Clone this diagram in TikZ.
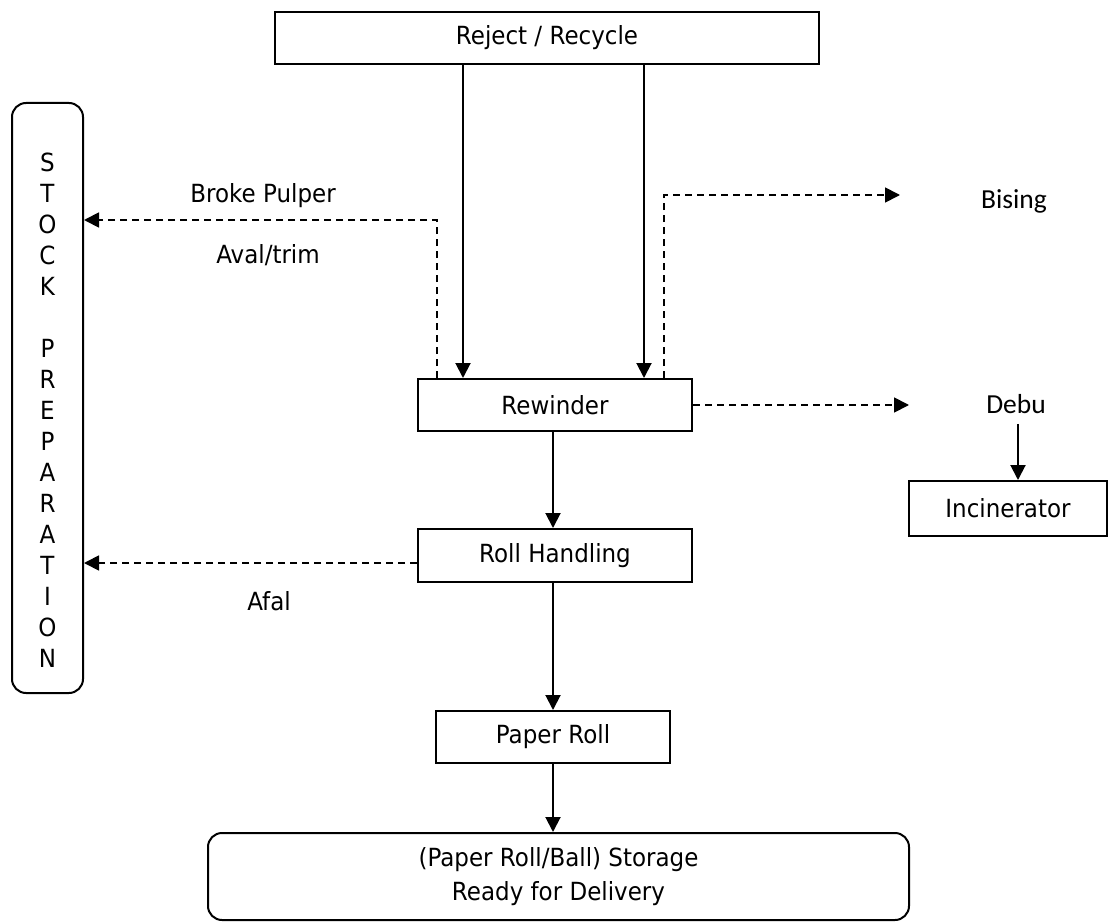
\documentclass[tikz,border=0pt]{standalone}
\usepackage{fontspec}
\setmainfont{DejaVu Sans}[FakeStretch=0.92]
\newfontfamily\calfont{Carlito}
\usetikzlibrary{arrows.meta}
\begin{document}
\begin{tikzpicture}[x=1pt,y=-1pt,
  every node/.style={font=\fontsize{25}{31}\selectfont},
  procbox/.style={draw,line width=2pt,inner sep=0pt,align=center},
  roundbox/.style={procbox,rounded corners=14pt},
  plain/.style={inner sep=0pt,align=center},
  flow/.style={line width=2pt,-{Triangle[length=15pt,width=15pt]}},
  side/.style={line width=1.8pt,dash pattern=on 7pt off 5pt,-{Triangle[length=15pt,width=15pt]}}]
\useasboundingbox (0,0) rectangle (1109,923);

% process boxes
\node[procbox,minimum width=544pt,minimum height=52pt] (reject) at (547,38) {Reject / Recycle};
\node[procbox,minimum width=274pt,minimum height=52pt] (rewinder) at (555,405) {Rewinder};
\node[procbox,minimum width=274pt,minimum height=53pt] (handling) at (555,555.5) {Roll Handling};
\node[procbox,minimum width=234pt,minimum height=52pt] (paper) at (553,737) {Paper Roll};
\node[procbox,minimum width=198pt,minimum height=55pt] (incin) at (1008,508.5) {Incinerator};
\node[roundbox,minimum width=701pt,minimum height=87pt,
  font=\fontsize{25}{34}\selectfont] (storage) at (558.5,876.5)
  {(Paper Roll/Ball) Storage\\Ready for Delivery};

% stock preparation column
\node[roundbox,minimum width=71pt,minimum height=590pt] (stock) at (47.5,398) {};
\node[plain] (stocktxt) at (47.5,410)
  {S\\T\\O\\C\\K\\\mbox{}\\P\\R\\E\\P\\A\\R\\A\\T\\I\\O\\N};

% side outputs
\node[plain,font=\calfont\fontsize{27.5}{31}\selectfont] (bising) at (1014,201) {Bising};
\node[plain,font=\calfont\fontsize{27.5}{31}\selectfont] (debu) at (1016,404) {Debu};

% flow labels
\node[plain] (broke) at (263,196) {Broke Pulper};
\node[plain] (trim) at (268,255) {Aval/trim};
\node[plain] (afal) at (269,601) {Afal};

% helper coordinates
\coordinate (xa) at (463,0);
\coordinate (xb) at (644,0);
\coordinate (xl) at (437,0);
\coordinate (xr) at (664,0);
\coordinate (ybroke) at (0,220);
\coordinate (ybising) at (0,195);
\coordinate (tipbising) at (900,195);
\coordinate (tipdebu) at (909,0);
\coordinate (xdebu) at (1018,0);

% main flow
\draw[flow] (reject.south -| xa) -- (rewinder.north -| xa);
\draw[flow] (reject.south -| xb) -- (rewinder.north -| xb);
\draw[flow] (rewinder.south -| paper.north) -- (handling.north -| paper.north);
\draw[flow] (handling.south -| paper.north) -- (paper.north);
\draw[flow] (paper.south) -- (storage.north -| paper.south);
\draw[flow] (debu.south -| xdebu) ++(0,10) -- (incin.north -| xdebu);

% broke and waste lines
\draw[side] (rewinder.north -| xl) -- (xl |- ybroke) -- (stock.east |- ybroke);
\draw[side] (rewinder.north -| xr) -- (xr |- ybising) -- (tipbising);
\draw[side] (rewinder.east) -- (tipdebu |- rewinder.east);
\draw[side] (handling.west |- 0,563) -- (stock.east |- 0,563);
\end{tikzpicture}
\end{document}
